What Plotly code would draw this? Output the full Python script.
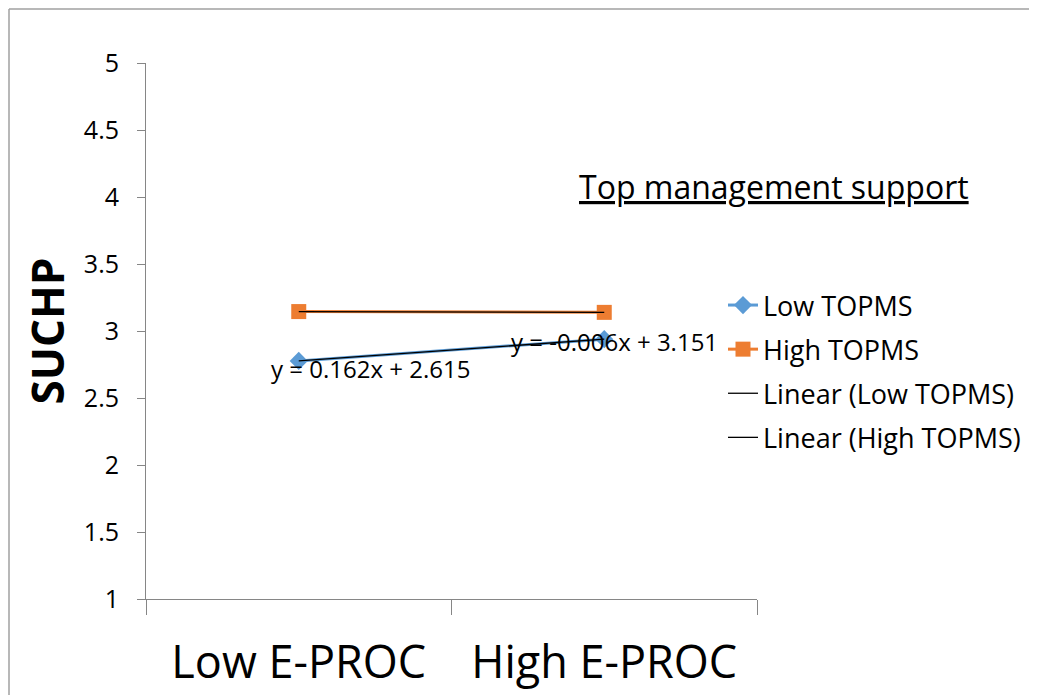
import plotly.graph_objects as go
import numpy as np

categories = ["Low E-PROC", "High E-PROC"]
low_topms = [2.777, 2.939]
high_topms = [3.145, 3.139]
trend_low = (0.162, 2.615)
trend_high = (-0.006, 3.151)
y_ticks = [1, 1.5, 2, 2.5, 3, 3.5, 4, 4.5, 5]
y_labels = ["1", "1.5", "2", "2.5", "3", "3.5", "4", "4.5", "5"]

FONT = "Open Sans"
OFF = 8  # page body margin

# screen pixel -> paper coordinates (plot area: x 146..757, y 63..599 on screen)
def xp(px):
    return (px - 146) / 611

def yp(py):
    return (599 - py) / 536

xpos = np.arange(len(categories))
excel_x = xpos + 1

fig = go.Figure()
fig.add_trace(go.Scatter(x=xpos, y=low_topms, name="Low TOPMS", mode="lines+markers", legendgroup="a",
                         line=dict(color="#5B9BD5", width=3),
                         marker=dict(symbol="diamond", size=14, color="#5B9BD5")))
fig.add_trace(go.Scatter(x=xpos, y=high_topms, name="High TOPMS", mode="lines+markers", legendgroup="b",
                         line=dict(color="#ED7D31", width=3),
                         marker=dict(symbol="square", size=15, color="#ED7D31")))
fig.add_trace(go.Scatter(x=xpos, y=trend_low[0] * excel_x + trend_low[1], name="Linear (Low TOPMS)",
                         legendgroup="c", mode="lines", line=dict(color="black", width=1.3)))
fig.add_trace(go.Scatter(x=xpos, y=trend_high[0] * excel_x + trend_high[1], name="Linear (High TOPMS)",
                         legendgroup="d", mode="lines", line=dict(color="black", width=1.3)))

def eq(m, b):
    return f"y = {m:.3f}x + {b:.3f}"

fig.add_annotation(x=xp(370), y=yp(368), xref="paper", yref="paper", xanchor="center", yanchor="middle",
                   text=eq(*trend_low), showarrow=False, font=dict(family=FONT, size=24, color="black"))
fig.add_annotation(x=xp(614), y=yp(342), xref="paper", yref="paper", xanchor="center", yanchor="middle",
                   text=eq(*trend_high), showarrow=False, font=dict(family=FONT, size=24, color="black"))
fig.add_annotation(x=xp(774), y=yp(186), xref="paper", yref="paper", xanchor="center", yanchor="middle",
                   text="<u>Top management support</u>", showarrow=False,
                   font=dict(family=FONT, size=32, color="black"))

gray = "#868686"
fig.update_xaxes(range=[-0.5, 1.5], tickmode="array", tickvals=list(xpos), ticktext=categories,
                 ticks="", showline=True, linecolor=gray, linewidth=1, showgrid=False, zeroline=False,
                 ticklabelstandoff=24, automargin=False,
                 tickfont=dict(family=FONT, size=45, color="black"),
                 minor=dict(tickmode="array", tickvals=[-0.5, 0.5, 1.5], ticks="outside", ticklen=15,
                            tickcolor=gray, showgrid=False))
fig.update_yaxes(range=[1, 5], tickmode="array", tickvals=y_ticks, ticktext=y_labels,
                 ticks="outside", ticklen=8, tickcolor=gray, showline=True, linecolor=gray,
                 linewidth=1, showgrid=False, zeroline=False, ticklabelstandoff=13, automargin=False,
                 tickfont=dict(family=FONT, size=25, color="black"),
                 title=dict(text="<b>SUCHP</b>", font=dict(family=FONT, size=44, color="black"), standoff=5))

fig.add_shape(type="line", xref="paper", yref="paper", x0=xp(9), x1=xp(9),
              y0=-0.3, y1=yp(9), line=dict(color="#a0a0a0", width=1.5))
fig.add_shape(type="line", xref="paper", yref="paper", x0=xp(9), x1=1.5,
              y0=yp(9), y1=yp(9), line=dict(color="#a0a0a0", width=1.5))

fig.update_layout(width=1037 - OFF, height=695 - OFF,
                  margin=dict(l=146 - OFF, r=280, t=63 - OFF, b=96, autoexpand=False),
                  plot_bgcolor="white", paper_bgcolor="white",
                  legend=dict(x=xp(723), y=yp(281), xanchor="left", yanchor="top",
                              font=dict(family=FONT, size=27, color="black"), tracegroupgap=6,
                              bgcolor="rgba(0,0,0,0)"),
                  showlegend=True)
fig.write_html("out.html")
